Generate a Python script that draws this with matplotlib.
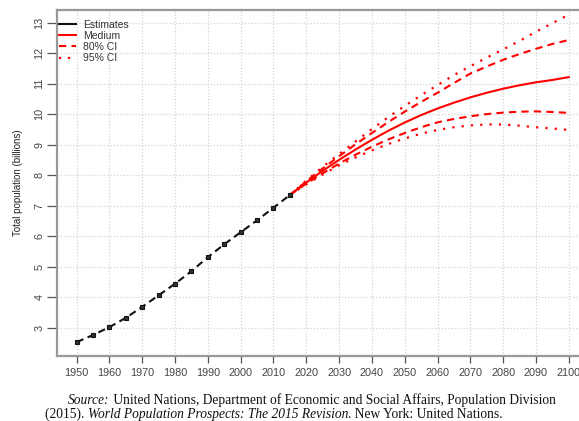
import matplotlib
matplotlib.use("Agg")
import matplotlib.pyplot as plt
from matplotlib.lines import Line2D

# ---------------- data ----------------
est_years = [1950, 1955, 1960, 1965, 1970, 1975, 1980, 1985, 1990, 1995, 2000, 2005, 2010, 2015]
est_pop = [2.525, 2.758, 3.018, 3.322, 3.682, 4.061, 4.440, 4.853, 5.310, 5.735, 6.127, 6.520, 6.930, 7.349]

proj_years = [2015, 2020, 2025, 2030, 2035, 2040, 2045, 2050, 2055, 2060, 2065, 2070, 2075,
              2080, 2085, 2090, 2095, 2100]
medium = [7.349, 7.758, 8.142, 8.501, 8.839, 9.157, 9.454, 9.725, 9.968, 10.184, 10.375, 10.548,
          10.700, 10.833, 10.946, 11.042, 11.120, 11.213]
lo80 = [7.349, 7.72, 8.06, 8.38, 8.67, 8.93, 9.17, 9.38, 9.57, 9.73, 9.84, 9.93, 10.00,
        10.05, 10.08, 10.09, 10.07, 10.04]
hi80 = [7.349, 7.80, 8.22, 8.62, 9.01, 9.38, 9.74, 10.08, 10.40, 10.70, 11.02, 11.33, 11.56,
        11.78, 11.97, 12.14, 12.30, 12.43]
lo95 = [7.349, 7.70, 8.02, 8.32, 8.58, 8.81, 9.02, 9.20, 9.36, 9.48, 9.57, 9.63, 9.66,
        9.66, 9.62, 9.57, 9.53, 9.48]
hi95 = [7.349, 7.82, 8.27, 8.69, 9.10, 9.51, 9.90, 10.27, 10.62, 10.95, 11.28, 11.57, 11.85,
        12.12, 12.40, 12.70, 12.98, 13.26]

x_ticks = list(range(1950, 2101, 10))
y_ticks = list(range(3, 14))
legend_labels = ["Estimates", "Medium", "80% CI", "95% CI"]
ylabel = "Total population (billions)"

# ---------------- figure ----------------
W, H = 579, 421
fig = plt.figure(figsize=(W / 100, H / 100), dpi=100)
AX_L, AX_R, AX_B, AX_T = 57, 588.4, 65, 411.5
ax = fig.add_axes([AX_L / W, AX_B / H, (AX_R - AX_L) / W, (AX_T - AX_B) / H])

RED = "#ff0000"
ax.plot(est_years, est_pop, color="#111111", lw=1.5, ls=(0, (3.5, 2.2)),
        marker="s", ms=3.0, mfc="#333333", mec="#111111", mew=0.8, zorder=5)
ax.plot(proj_years, medium, color=RED, lw=1.5, zorder=4)
ax.plot(proj_years, lo80, color=RED, lw=1.5, ls=(0, (3.5, 2.5)), zorder=4)
ax.plot(proj_years, hi80, color=RED, lw=1.5, ls=(0, (3.5, 2.5)), zorder=4)
ax.plot(proj_years, lo95, color=RED, lw=1.6, ls=(0, (1, 3.2)), zorder=4)
ax.plot(proj_years, hi95, color=RED, lw=1.6, ls=(0, (1, 3.2)), zorder=4)

ax.set_xlim(1944, 2106)
ax.set_ylim(2.07, 13.43)
ax.set_xticks(x_ticks)
ax.set_yticks(y_ticks)
ax.set_xticklabels([str(v) for v in x_ticks])
ax.set_yticklabels([str(v) for v in y_ticks], rotation=90, va="center")

ax.grid(True, color="#d4d4d4", ls=(0, (1, 1.5)), lw=0.9)
ax.set_axisbelow(True)

for side in ["left", "bottom", "top"]:
    ax.spines[side].set_color("#999999")
    ax.spines[side].set_linewidth(1.6)
ax.spines["right"].set_visible(False)

ax.tick_params(axis="x", direction="out", length=5, width=0.9, color="#555555",
               pad=4, labelsize=7.8, labelcolor="#444444")
ax.tick_params(axis="y", direction="out", length=7, width=0.9, color="#555555",
               pad=2, labelsize=7.8, labelcolor="#444444")
for lab in ax.get_xticklabels() + ax.get_yticklabels():
    lab.set_family("Liberation Sans")

ax.set_ylabel(ylabel, family="Liberation Sans", fontsize=7, color="#222222")
ax.yaxis.set_label_coords(-(AX_L - 23) / (AX_R - AX_L), 0.5)

# legend
handles = [
    Line2D([], [], color="#111111", lw=1.5),
    Line2D([], [], color=RED, lw=1.5),
    Line2D([], [], color=RED, lw=1.5, ls=(0, (3.5, 2.5))),
    Line2D([], [], color=RED, lw=1.6, ls=(0, (1, 3))),
]
leg = ax.legend(handles, legend_labels, loc="upper left", frameon=False,
                prop={"family": "Liberation Sans", "size": 7.5},
                handlelength=1.6, handletextpad=0.75, labelspacing=0.12,
                borderaxespad=0.0, borderpad=0.0,
                bbox_to_anchor=(2 / (AX_R - AX_L), 1 - 10 / (AX_T - AX_B)))
for t in leg.get_texts():
    t.set_color("#333333")

# caption with mixed italic
fig.canvas.draw()
renderer = fig.canvas.get_renderer()


def draw_line(pieces, x_px, y_px):
    x = x_px
    for txt, style in pieces:
        t = fig.text(x / W, 1 - y_px / H, txt, family="Liberation Serif", fontsize=9.75,
                     style=style, color="#111111", ha="left", va="baseline")
        bb = t.get_window_extent(renderer=renderer)
        x += bb.width


line1 = [("Source:", "italic"),
         (" United Nations, Department of Economic and Social Affairs, Population Division", "normal")]
line2 = [("(2015). ", "normal"),
         ("World Population Prospects: The 2015 Revision", "italic"),
         (". New York: United Nations.", "normal")]
draw_line(line1, 68, 404)
draw_line(line2, 45, 418)

fig.savefig("out.png", dpi=100)
